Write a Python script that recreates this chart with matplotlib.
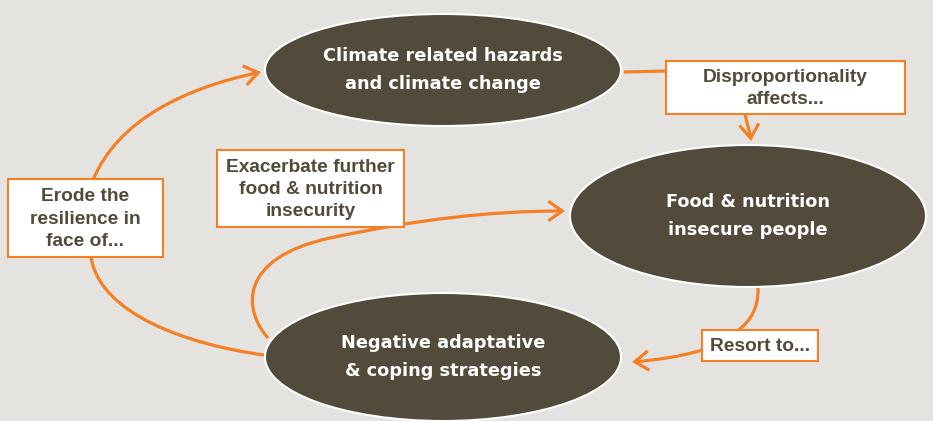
import matplotlib
matplotlib.use("Agg")
import matplotlib.pyplot as plt
from matplotlib.patches import Ellipse, Rectangle, FancyArrowPatch, ArrowStyle
from matplotlib.path import Path

# ---- content ----
node_labels = ["Climate related hazards\nand climate change",
               "Food & nutrition\ninsecure people",
               "Negative adaptative\n& coping strategies"]
node_centers = [(443, 70), (748, 216), (443, 357)]
node_sizes = [(356, 112), (356, 142), (356, 128)]

box_labels = ["Disproportionality\naffects...",
              "Erode the\nresilience in\nface of...",
              "Exacerbate further\nfood & nutrition\ninsecurity",
              "Resort to..."]
box_rects = [(666, 61, 239, 53), (8, 179, 155, 78), (217, 150, 187, 77), (702, 330, 116, 31)]

BG = "#E4E3DF"
DARK = "#524A3A"
ORANGE = "#F47F24"

W, H = 933, 421
fig = plt.figure(figsize=(W / 100, H / 100), dpi=100, facecolor=BG)
ax = fig.add_axes([0, 0, 1, 1])
ax.set_xlim(0, W)
ax.set_ylim(H, 0)
ax.axis("off")
ax.set_facecolor(BG)

LW = 2.3

def curve(points, codes, arrow=False):
    p = Path(points, codes)
    if arrow:
        style = ArrowStyle("->", head_length=10, head_width=7)
    else:
        style = ArrowStyle("-")
    a = FancyArrowPatch(path=p, arrowstyle=style, mutation_scale=1,
                        color=ORANGE, lw=LW, zorder=1,
                        capstyle="butt", joinstyle="miter")
    ax.add_patch(a)

M, C, L = Path.MOVETO, Path.CURVE4, Path.LINETO
# Erode -> top ellipse
curve([(93, 180), (118, 120), (185, 88), (261, 72)], [M, C, C, C], arrow=True)
# Erode -> bottom ellipse
curve([(91, 257), (100, 315), (190, 345), (264, 355)], [M, C, C, C])
# top ellipse -> Disproportionality box
curve([(624, 72), (667, 71)], [M, L])
# Disproportionality box -> food ellipse
curve([(745, 114), (747, 124), (750, 132), (751, 141)], [M, C, C, C], arrow=True)
# food ellipse -> Resort box
curve([(758, 287), (759, 308), (750, 322), (737, 331)], [M, C, C, C])
# Resort box -> negative ellipse
curve([(702, 350), (680, 357), (655, 360), (632, 362)], [M, C, C, C], arrow=True)
# negative -> food (exacerbate)
curve([(268, 338), (243, 310), (238, 258), (330, 238),
       (420, 219), (490, 211), (565, 211)], [M, C, C, C, C, C, C], arrow=True)

for (cx, cy), (w, h), lab in zip(node_centers, node_sizes, node_labels):
    ax.add_patch(Ellipse((cx, cy), w, h, facecolor=DARK, edgecolor="white", lw=1.5, zorder=2))
    ax.text(cx, cy, lab, ha="center", va="center", color="white",
            fontsize=12.8, fontweight="bold", family="DejaVu Sans",
            linespacing=1.75, zorder=3)

for (x, y, w, h), lab in zip(box_rects, box_labels):
    ax.add_patch(Rectangle((x, y), w, h, facecolor="white", edgecolor=ORANGE, lw=1.5, zorder=4))
    ax.text(x + w / 2, y + h / 2 + 1, lab, ha="center", va="center", color=DARK,
            fontsize=13.8, fontweight="bold", family="Liberation Sans",
            linespacing=1.42, zorder=5)

fig.savefig("out.png", dpi=100, facecolor=BG)
